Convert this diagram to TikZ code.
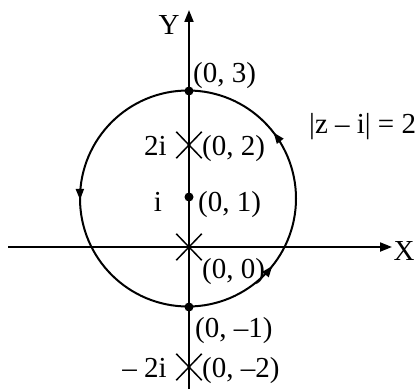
\documentclass[tikz,border=0pt]{standalone}
\usepackage{fontspec}
\setmainfont{Liberation Serif}
\usetikzlibrary{arrows.meta,decorations.markings,shapes.misc}
\begin{document}
\begin{tikzpicture}[x=1pt,y=1pt,
  axis/.style={line width=2pt,-{Triangle[length=12pt,width=9pt]}},
  lbl/.style={inner sep=0pt,font=\fontsize{29}{30}\selectfont},
  dotmark/.style={circle,fill=black,inner sep=0pt,minimum size=9pt},
  crossmark/.style={cross out,draw=black,line width=1.5pt,inner sep=0pt,minimum width=24pt,minimum height=25pt},
  circarrow/.style={decoration={markings,
      mark=at position 0.1045 with {\arrow{Triangle[length=11pt,width=8pt]}},
      mark=at position 0.502 with {\arrow{Triangle[length=11pt,width=8pt]}},
      mark=at position 0.8925 with {\arrow{Triangle[length=11pt,width=8pt]}}},
      postaction={decorate}}
]
\useasboundingbox (0,0) rectangle (417,389);
% coordinates
\coordinate (xs) at (8,142);
\coordinate (xe) at (392,142);
\coordinate (ys) at (189,0);
\coordinate (ye) at (189,379);
\coordinate (c) at (188,190.5);
% axes
\draw[axis] (xs) -- (xe);
\draw[axis] (ys) -- (ye);
% circle
\draw[line width=2pt,circarrow] (c) ++(108,0) arc[start angle=0,end angle=360,radius=108];
% points
\node[dotmark] (p3) at (189,298) {};
\node[dotmark] (p1) at (189,192) {};
\node[dotmark] (pm1) at (189,82) {};
\node[crossmark] (p2) at (189,244) {};
\node[crossmark] (p0) at (189,142) {};
\node[crossmark] (pm2) at (189,22) {};
% labels
\node[lbl,anchor=base] (ly) at (169,354) {Y};
\node[lbl,anchor=base] (lx) at (404,129) {X};
\node[lbl,anchor=base west] (l3) at (193,306) {(0, 3)};
\node[lbl,anchor=base west] (lz) at (309,256) {|z – i| = 2};
\node[lbl,anchor=base east] (l2i) at (167,234) {2i};
\node[lbl,anchor=base west] (l2) at (202,234) {(0, 2)};
\node[lbl,anchor=base] (li) at (158,178) {i};
\node[lbl,anchor=base west] (l1) at (198,178) {(0, 1)};
\node[lbl,anchor=base west] (l0) at (202,111) {(0, 0)};
\node[lbl,anchor=base west] (lm1) at (195,52) {(0, –1)};
\node[lbl,anchor=base east] (lm2i) at (167,12) {– 2i};
\node[lbl,anchor=base west] (lm2) at (202,12) {(0, –2)};
\end{tikzpicture}
\end{document}
